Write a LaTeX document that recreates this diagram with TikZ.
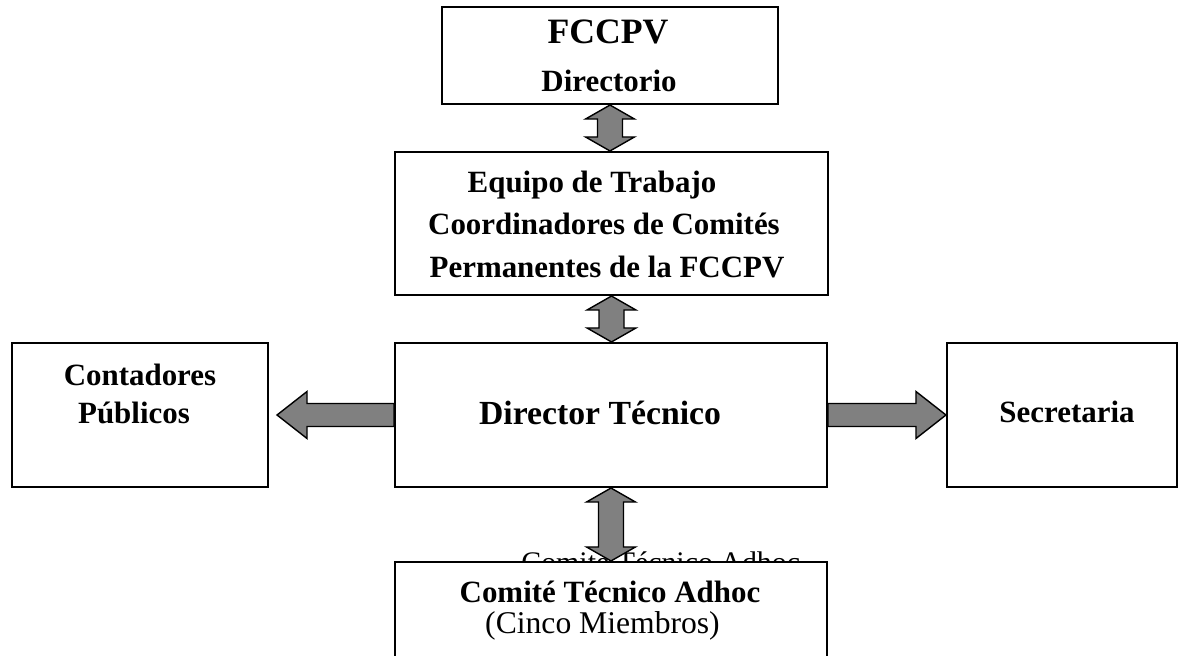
\documentclass[tikz,border=0pt]{standalone}
\usepackage{fontspec}
\setmainfont{Liberation Serif}
\usetikzlibrary{calc}

\begin{document}
\begin{tikzpicture}[x=0.02cm, y=-0.02cm,
		caja/.style={draw=black, line width=1.2pt, fill=white, inner sep=0pt},
		letra/.style={anchor=base, inner sep=0pt, font=\fontsize{17.6}{21}\selectfont\bfseries},
		fina/.style={anchor=base, inner sep=0pt, font=\fontsize{18}{21}\selectfont},
		bloque/.style={draw=black, line width=0.8pt, fill=gray, line join=miter}]
		\clip (0,0) rectangle (1178,656);
		\fill[white] (0,0) rectangle (1178,656);
		% cajas
		\node[caja, minimum width=6.72cm, minimum height=1.94cm] (dir) at (610,55.5) {};
		\node[caja, minimum width=8.66cm, minimum height=2.86cm] (equipo) at (611.5,223.5) {};
		\node[caja, minimum width=8.64cm, minimum height=2.88cm] (tec) at (611,415) {};
		\node[caja, minimum width=5.12cm, minimum height=2.88cm] (cont) at (140,415) {};
		\node[caja, minimum width=4.61cm, minimum height=2.88cm] (secr) at (1062.25,415) {};
		\node[fina, anchor=base west, font=\fontsize{17}{20}\selectfont] (tras) at (521,572) {Comité Técnico Adhoc};
		\node[caja, minimum width=8.64cm, minimum height=2.76cm] (adhoc) at (611,631) {};
		% textos
		\node[letra, font=\fontsize{20.3}{24}\selectfont\bfseries] (t-fccpv) at (608,43) {FCCPV};
		\node[letra] (t-dir) at (609,91) {Directorio};
		\node[letra] (t-eq1) at (592,192) {Equipo de Trabajo};
		\node[letra] (t-eq2) at (604,234) {Coordinadores de Comités};
		\node[letra] (t-eq3) at (607,277) {Permanentes de la FCCPV};
		\node[letra] (t-cont1) at (140,385) {Contadores};
		\node[letra] (t-cont2) at (134,423) {Públicos};
		\node[letra, font=\fontsize{19.2}{23}\selectfont\bfseries] (t-tec) at (600,424) {Director Técnico};
		\node[letra] (t-secr) at (1067,422) {Secretaria};
		\node[letra] (t-adhoc1) at (610,602) {Comité Técnico Adhoc};
		\node[fina] (t-adhoc2) at (602.5,633) {(Cinco Miembros)};
		% flechas
		\foreach \a/\b in {dir/equipo, equipo/tec, tec/adhoc}
			\draw[bloque] (\a.south) -- ++(24.5,14) -- ++(-12,0) -- ($(\a.south |- \b.north)+(12.5,-14)$) -- ++(12,0) -- (\a.south |- \b.north) -- ++(-24.5,-14) -- ++(12,0) -- ($(\a.south)+(-12.5,14)$) -- ++(-12,0) -- cycle;
		\coordinate (pc) at ($(cont.east)+(8,0)$);
		\draw[bloque] ($(tec.west)+(0,-11.5)$) -- ($(pc)+(30,-11.5)$) -- ($(pc)+(30,-23.5)$) -- (pc) -- ($(pc)+(30,23.5)$) -- ($(pc)+(30,11.5)$) -- ($(tec.west)+(0,11.5)$) -- cycle;
		\draw[bloque] ($(tec.east)+(0,-11.5)$) -- ($(secr.west)+(-30,-11.5)$) -- ($(secr.west)+(-30,-23.5)$) -- (secr.west) -- ($(secr.west)+(-30,23.5)$) -- ($(secr.west)+(-30,11.5)$) -- ($(tec.east)+(0,11.5)$) -- cycle;
	\end{tikzpicture}
\end{document}
